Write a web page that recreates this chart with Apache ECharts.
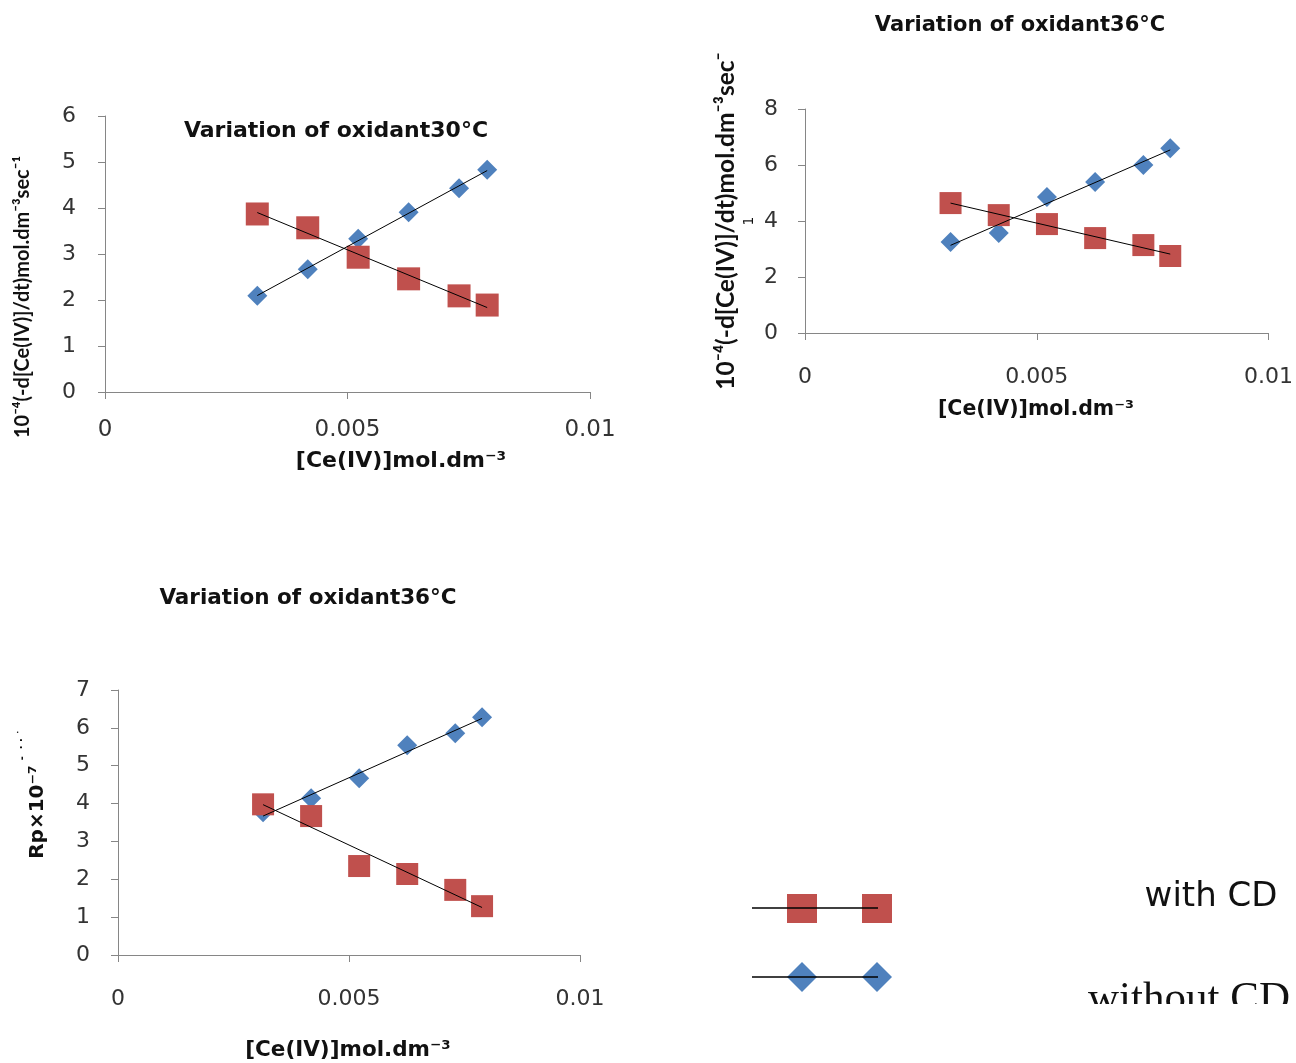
<!DOCTYPE html>
<html><head><meta charset="utf-8">
<script src="https://cdn.jsdelivr.net/npm/echarts@6/dist/echarts.min.js"></script>
<style>html,body{margin:0;padding:0;background:#fff}#c{width:1296px;height:1063px}</style>
</head><body><div id="c"></div>
<script>
// Data
const concentration = [0.00314, 0.00418, 0.00522, 0.00626, 0.0073, 0.00788];
const rate30WithCD = [3.87, 3.57, 2.93, 2.46, 2.09, 1.89];
const rate30WithoutCD = [2.09, 2.67, 3.33, 3.91, 4.43, 4.83];
const rate36WithCD = [4.64, 4.21, 3.89, 3.39, 3.14, 2.75];
const rate36WithoutCD = [3.25, 3.57, 4.86, 5.39, 6.0, 6.6];
const rp36WithCD = [3.98, 3.67, 2.35, 2.14, 1.72, 1.29];
const rp36WithoutCD = [3.77, 4.14, 4.67, 5.54, 5.86, 6.28];
const xTickValues = [0, 0.005, 0.01];
const titles = ['Variation of oxidant30\u00b0C', 'Variation of oxidant36\u00b0C', 'Variation of oxidant36\u00b0C'];
const legendNames = ['with CD', 'without CD'];

const RED = '#C0504D', BLUE = '#4F81BD', AX = '#868686';
const FONT = 'DejaVu Sans';

function pairs(xs, ys) { return xs.map((x, i) => [x, ys[i]]); }
function trend(xs, ys) {
  const n = xs.length;
  const mx = xs.reduce((a, b) => a + b, 0) / n, my = ys.reduce((a, b) => a + b, 0) / n;
  let sxy = 0, sxx = 0;
  for (let i = 0; i < n; i++) { sxy += (xs[i] - mx) * (ys[i] - my); sxx += (xs[i] - mx) ** 2; }
  const b = sxy / sxx, a = my - b * mx;
  const x0 = Math.min(...xs), x1 = Math.max(...xs);
  return [[x0, a + b * x0], [x1, a + b * x1]];
}
function fmtX(v) {
  let best = xTickValues[0];
  xTickValues.forEach(t => { if (Math.abs(t - v) < Math.abs(best - v)) best = t; });
  return String(best);
}
function xAxis(gi, margin, size) {
  return {
    type: 'value', gridIndex: gi, min: 0, max: 0.01, interval: 0.005,
    axisLine: { show: true, onZero: false, lineStyle: { color: AX, width: 1 } },
    axisTick: { show: true, length: 7, lineStyle: { color: AX } },
    splitLine: { show: false },
    axisLabel: { margin: margin, fontSize: size, fontFamily: FONT, color: '#333', formatter: fmtX }
  };
}
function yAxis(gi, max, interval, size, margin) {
  return {
    type: 'value', gridIndex: gi, min: 0, max: max, interval: interval,
    axisLine: { show: true, onZero: false, lineStyle: { color: AX, width: 1 } },
    axisTick: { show: true, length: 7, lineStyle: { color: AX } },
    splitLine: { show: false },
    axisLabel: { margin: margin, fontSize: size, fontFamily: FONT, color: '#333' }
  };
}
function scatter(gi, data, color, symbol, size) {
  return { type: 'scatter', xAxisIndex: gi, yAxisIndex: gi, data: data, symbol: symbol, symbolSize: size,
    itemStyle: { color: color, opacity: 1 }, z: symbol === 'rect' ? 3 : 2, silent: true };
}
function line(gi, data) {
  return { type: 'line', xAxisIndex: gi, yAxisIndex: gi, data: data, symbol: 'none',
    lineStyle: { color: '#000', width: 1 }, z: 5, silent: true };
}

const sets = [
  [rate30WithCD, rate30WithoutCD],
  [rate36WithCD, rate36WithoutCD],
  [rp36WithCD, rp36WithoutCD]
];
const series = [];
sets.forEach((s, gi) => {
  series.push(scatter(gi, pairs(concentration, s[1]), BLUE, 'diamond', [20, 20]));
  series.push(scatter(gi, pairs(concentration, s[0]), RED, 'rect', gi === 0 ? [23, 23] : [22, 22]));
  series.push(line(gi, trend(concentration, s[1])));
  series.push(line(gi, trend(concentration, s[0])));
});

function txt(x, y, text, size, bold, rot, family) {
  return { type: 'text', x: x, y: y, rotation: rot || 0,
    style: { text: text, fontSize: size, fontWeight: bold ? 'bold' : 'normal', fontFamily: family || FONT,
      fill: '#111', align: 'center', verticalAlign: 'middle' }, z: 10 };
}

const graphics = [
  txt(336, 131, titles[0], 22, true),
  txt(1020, 26, titles[1], 21, true),
  txt(308, 598, titles[2], 21.5, true),
  txt(23, 297, '10\u207b\u2074(-d[Ce(IV)]/dt)mol.dm\u207b\u00b3sec\u207b\u00b9', 20, true, Math.PI / 2, 'Lato'),
  txt(726, 221, '10\u207b\u2074(-d[Ce(IV)]/dt)mol.dm\u207b\u00b3sec\u207b', 24.5, true, Math.PI / 2, 'Lato'),
  txt(749, 221, '1', 14, false, Math.PI / 2),
  txt(38, 812, 'Rp\u00d710\u207b\u2077', 20, true, Math.PI / 2),
  txt(22, 745, '-  \u00b7 \u00b7 \u02d9', 10, true, Math.PI / 2),
  txt(401, 461, '[Ce(IV)]mol.dm\u207b\u00b3', 22, true),
  txt(1036, 410, '[Ce(IV)]mol.dm\u207b\u00b3', 20.5, true),
  txt(348, 1050, '[Ce(IV)]mol.dm\u207b\u00b3', 21.5, true),
  // legend
  { type: 'line', shape: { x1: 752, y1: 908, x2: 878, y2: 908 }, style: { stroke: '#000', lineWidth: 1.5 }, z: 12 },
  { type: 'rect', shape: { x: 787, y: 894, width: 30, height: 29 }, style: { fill: RED }, z: 11 },
  { type: 'rect', shape: { x: 862, y: 894, width: 30, height: 29 }, style: { fill: RED }, z: 11 },
  { type: 'line', shape: { x1: 752, y1: 977, x2: 878, y2: 977 }, style: { stroke: '#000', lineWidth: 1.5 }, z: 12 },
  { type: 'polygon', shape: { points: [[802, 962], [817, 977], [802, 992], [787, 977]] }, style: { fill: BLUE }, z: 11 },
  { type: 'polygon', shape: { points: [[877, 962], [892, 977], [877, 992], [862, 977]] }, style: { fill: BLUE }, z: 11 },
  txt(1211, 897, legendNames[0], 34, false, 0, 'DejaVu Sans'),
  txt(1189, 1000, legendNames[1], 43, false, 0, 'Liberation Serif'),
  { type: 'rect', shape: { x: 1060, y: 1004, width: 236, height: 40 }, style: { fill: '#fff' }, z: 20 }
];

const chart = echarts.init(document.getElementById('c'));
chart.setOption({
  backgroundColor: '#fff',
  animation: false,
  grid: [
    { left: 105, top: 116, width: 485, height: 276 },
    { left: 805, top: 109, width: 465, height: 224 },
    { left: 118, top: 690, width: 462, height: 265 }
  ],
  xAxis: [xAxis(0, 27, 23), xAxis(1, 33, 22), xAxis(2, 33, 22)],
  yAxis: [yAxis(0, 6, 1, 22, 29), yAxis(1, 8, 2, 22, 27), yAxis(2, 7, 1, 22, 28)],
  series: series,
  graphic: graphics
});
</script></body></html>
